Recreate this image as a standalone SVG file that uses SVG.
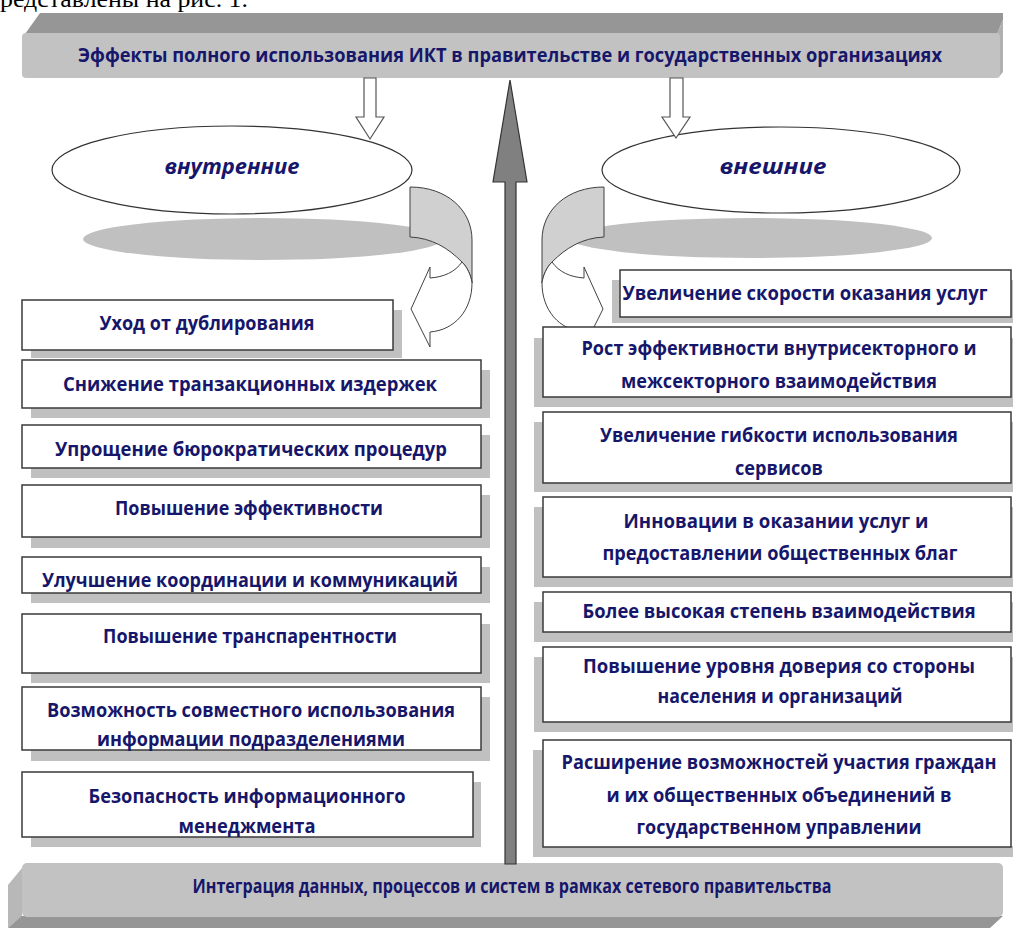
<svg xmlns="http://www.w3.org/2000/svg" width="1013" height="928" viewBox="0 0 1013 928">
<style>
.box{fill:#fff;stroke:#3a3a3a;stroke-width:1.5}
.sh{fill:#c0c0c0}
.t{font-family:"Open Sans","Liberation Sans",sans-serif;font-weight:bold;fill:#16166a;text-anchor:middle;font-size:19px}
.it{font-family:"Open Sans","Liberation Sans",sans-serif;font-weight:bold;font-style:italic;fill:#16166a;text-anchor:middle;font-size:22px}
.band{fill:#d0d0d0;stroke:#404040;stroke-width:1}
.wh{fill:#fff;stroke:#404040;stroke-width:1}
</style>
<rect width="1013" height="928" fill="#fff"/>
<text x="0" y="6.5" font-family="Liberation Serif,serif" font-size="23" fill="#000" textLength="248" lengthAdjust="spacingAndGlyphs">редставлены на рис. 1.</text>

<g id="top-banner">
<polygon points="25,34 40,13 1003,13 1003,20 997,34" fill="#969696"/>
<polygon points="997,34 1003,20 1003,72 998,78" fill="#b0b0b0"/>
<rect x="22" y="33" width="978" height="45" rx="4" fill="#c2c2c2"/>
<text class="t" x="510" y="62" textLength="864" lengthAdjust="spacingAndGlyphs">Эффекты полного использования  ИКТ в правительстве  и государственных  организациях</text>
</g>

<g id="bottom-banner">
<polygon points="22,868 8,885 8,928 22,917" fill="#b8b8b8"/>
<polygon points="22,916 1003,916 990,928 8,928" fill="#969696"/>
<rect x="22" y="863" width="981" height="54" rx="5" fill="#c2c2c2"/>
<text class="t" x="512" y="893" font-size="17" textLength="639" lengthAdjust="spacingAndGlyphs">Интеграция данных, процессов и систем в рамках сетевого правительства</text>
</g>

<g id="internal">
<ellipse cx="263" cy="239" rx="180" ry="21" class="sh"/>
<ellipse cx="232" cy="170" rx="180" ry="44" fill="#fff" stroke="#333" stroke-width="1.2"/>
<text class="it" x="232" y="174" textLength="135" lengthAdjust="spacingAndGlyphs">внутренние</text>
</g>

<g id="external">
<ellipse cx="751" cy="238" rx="181" ry="20" class="sh"/>
<ellipse cx="781" cy="170" rx="179" ry="43" fill="#fff" stroke="#333" stroke-width="1.2"/>
<text class="it" x="773" y="174" textLength="107" lengthAdjust="spacingAndGlyphs">внешние</text>
</g>

<g id="connectors">
<polygon points="364,78 376,78 376,117 384,117 370,139 356,117 364,117" fill="#fff" stroke="#555" stroke-width="1.2"/>
<polygon points="670,78 683,78 683,117 690,117 676,138 662,117 670,117" fill="#fff" stroke="#555" stroke-width="1.2"/>
<path class="band" d="M410,187 C447,187 472,210 472,240 L472,283 C471,275 467,267 462,262 C448,248 432,238 410,237 Z"/>
<path class="wh" d="M462,262 C455,272 444,277 430,278 L430,267 L411,309 L430,347 L430,332 C455,330 472,310 472,283 C471,275 467,267 462,262 Z"/>
<path class="band" d="M604,187 C567,187 542,210 542,240 L542,283 C543,275 547,267 552,262 C566,248 582,238 604,237 Z"/>
<path class="wh" d="M552,262 C559,272 570,277 584,278 L584,267 L603,309 L584,347 L584,332 C559,330 542,310 542,283 C543,275 547,267 552,262 Z"/>
<polygon points="510,80 527,182 516,182 516,864 505,864 505,182 493,182" fill="#808080" stroke="#333" stroke-width="1.2"/>
</g>

<g id="l1"><rect class="sh" x="31" y="310" width="371" height="48"/><rect class="box" x="22" y="300" width="371" height="50"/>
<text class="t" x="207" y="330" textLength="215" lengthAdjust="spacingAndGlyphs">Уход от дублирования</text></g>
<g id="l2"><rect class="sh" x="31" y="370" width="459" height="48"/><rect class="box" x="22" y="360" width="459" height="48"/>
<text class="t" x="250" y="391" textLength="374" lengthAdjust="spacingAndGlyphs">Снижение транзакционных  издержек</text></g>
<g id="l3"><rect class="sh" x="31" y="435" width="459" height="43"/><rect class="box" x="22" y="425" width="459" height="43"/>
<text class="t" x="251" y="456" textLength="392" lengthAdjust="spacingAndGlyphs">Упрощение бюрократических  процедур</text></g>
<g id="l4"><rect class="sh" x="31" y="495" width="459" height="53"/><rect class="box" x="22" y="485" width="459" height="52"/>
<text class="t" x="249" y="515" textLength="268" lengthAdjust="spacingAndGlyphs">Повышение эффективности</text></g>
<g id="l5"><rect class="sh" x="31" y="567" width="459" height="36"/><rect class="box" x="22" y="557" width="459" height="36"/>
<text class="t" x="250" y="587" textLength="416" lengthAdjust="spacingAndGlyphs">Улучшение координации  и коммуникаций</text></g>
<g id="l6"><rect class="sh" x="31" y="624" width="459" height="59"/><rect class="box" x="22" y="614" width="459" height="59"/>
<text class="t" x="250" y="643" textLength="294" lengthAdjust="spacingAndGlyphs">Повышение транспарентности</text></g>
<g id="l7"><rect class="sh" x="31" y="697" width="459" height="64"/><rect class="box" x="22" y="687" width="459" height="63"/>
<text class="t" x="251" y="717" textLength="408" lengthAdjust="spacingAndGlyphs">Возможность совместного  использования</text>
<text class="t" x="251" y="746" textLength="308" lengthAdjust="spacingAndGlyphs">информации  подразделениями</text></g>
<g id="l8"><rect class="sh" x="31" y="782" width="450" height="65"/><rect class="box" x="22" y="772" width="451" height="65"/>
<text class="t" x="247" y="803" textLength="317" lengthAdjust="spacingAndGlyphs">Безопасность  информационного</text>
<text class="t" x="247" y="833" textLength="137" lengthAdjust="spacingAndGlyphs">менеджмента</text></g>

<g id="r1"><rect class="sh" x="612" y="280" width="401" height="43"/><rect class="box" x="620" y="270" width="391" height="47"/>
<text class="t" x="805" y="300" textLength="365" lengthAdjust="spacingAndGlyphs">Увеличение скорости  оказания  услуг</text></g>
<g id="r2"><rect class="sh" x="534" y="338" width="479" height="69"/><rect class="box" x="543" y="327" width="468" height="70"/>
<text class="t" x="779" y="355" textLength="395" lengthAdjust="spacingAndGlyphs">Рост эффективности  внутрисекторного  и</text>
<text class="t" x="779" y="388" textLength="316" lengthAdjust="spacingAndGlyphs">межсекторного взаимодействия</text></g>
<g id="r3"><rect class="sh" x="534" y="422" width="479" height="70"/><rect class="box" x="543" y="412" width="468" height="71"/>
<text class="t" x="779" y="442" textLength="358" lengthAdjust="spacingAndGlyphs">Увеличение гибкости  использования</text>
<text class="t" x="779" y="475" textLength="88" lengthAdjust="spacingAndGlyphs">сервисов</text></g>
<g id="r4"><rect class="sh" x="534" y="507" width="479" height="80"/><rect class="box" x="543" y="497" width="468" height="80"/>
<text class="t" x="776" y="528" textLength="305" lengthAdjust="spacingAndGlyphs">Инновации в оказании  услуг и</text>
<text class="t" x="780" y="560" textLength="355" lengthAdjust="spacingAndGlyphs">предоставлении  общественных  благ</text></g>
<g id="r5"><rect class="sh" x="534" y="602" width="479" height="40"/><rect class="box" x="543" y="592" width="468" height="40"/>
<text class="t" x="779" y="618" textLength="393" lengthAdjust="spacingAndGlyphs">Более высокая  степень взаимодействия</text></g>
<g id="r6"><rect class="sh" x="534" y="657" width="479" height="75"/><rect class="box" x="543" y="647" width="468" height="75"/>
<text class="t" x="779" y="673" textLength="392" lengthAdjust="spacingAndGlyphs">Повышение  уровня  доверия со стороны</text>
<text class="t" x="780" y="703" textLength="245" lengthAdjust="spacingAndGlyphs">населения и организаций</text></g>
<g id="r7"><path class="sh" d="M533,750 H544 V846 H1013 V857 H533 Z"/><rect class="box" x="543" y="740" width="468" height="107"/>
<text class="t" x="779" y="769" font-size="18" textLength="435" lengthAdjust="spacingAndGlyphs">Расширение возможностей участия граждан</text>
<text class="t" x="779" y="802" textLength="345" lengthAdjust="spacingAndGlyphs">и их общественных  объединений  в</text>
<text class="t" x="779" y="834" textLength="285" lengthAdjust="spacingAndGlyphs">государственном  управлении</text></g>
</svg>
